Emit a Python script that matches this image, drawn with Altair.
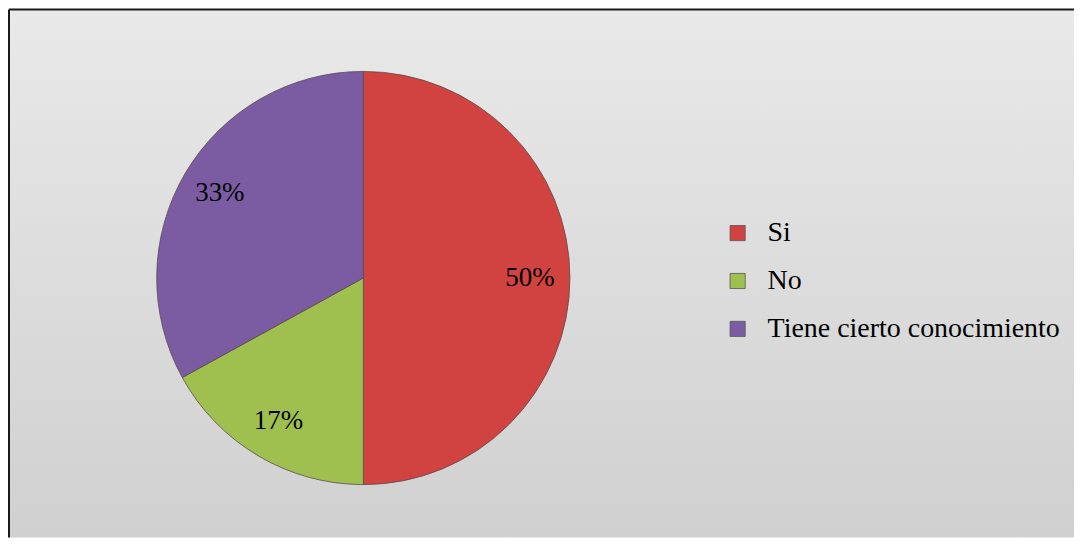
import altair as alt
import pandas as pd

categories = ["Si", "No", "Tiene cierto conocimiento"]
percents = [50, 17, 33]
labels = ["50%", "17%", "33%"]
colors = ["#d14341", "#9fc04e", "#7b5ca3"]

df = pd.DataFrame({"cat": categories, "pct": percents, "label": labels, "ord": [0, 1, 2]})
bg_df = pd.DataFrame({"k": [0]})

W, H = 1067, 529
CX, CY, R = 355, 269, 207
FONT = "Times New Roman"

color_scale = alt.Scale(domain=categories, range=colors)

bg = alt.Chart(bg_df).mark_rect(
    color=alt.LinearGradient(
        gradient="linear",
        x1=0, y1=0, x2=0, y2=1,
        stops=[
            alt.GradientStop(color="#e9e9e9", offset=0),
            alt.GradientStop(color="#d0d0d0", offset=1),
        ],
    )
).encode(x=alt.value(0), x2=alt.value(W), y=alt.value(0), y2=alt.value(H))

base = alt.Chart(df).encode(
    theta=alt.Theta("pct:Q", stack=True),
    order=alt.Order("ord:Q"),
)

pie = base.mark_arc(outerRadius=R, stroke="#5a4a4a", strokeWidth=0.8).encode(
    x=alt.value(CX),
    y=alt.value(CY),
    color=alt.Color(
        "cat:N",
        scale=color_scale,
        sort=categories,
        legend=alt.Legend(
            title=None,
            orient="none",
            legendX=716,
            legendY=210,
            symbolType="square",
            symbolSize=230,
            symbolStrokeWidth=0.8,
            symbolStrokeColor="#555555",
            labelFont=FONT,
            labelFontSize=28,
            labelColor="#000000",
            labelOffset=16,
            rowPadding=20,
            labelLimit=400,
        ),
    ),
)

text = base.mark_text(
    radius=167, font=FONT, fontSize=27, color="#000000"
).encode(
    x=alt.value(CX),
    y=alt.value(CY),
    text="label:N",
)

border_top = alt.Chart(bg_df).mark_rule(color="#1a1a1a", strokeWidth=2).encode(
    x=alt.value(0), x2=alt.value(W), y=alt.value(0)
)
border_left = alt.Chart(bg_df).mark_rule(color="#1a1a1a", strokeWidth=2).encode(
    x=alt.value(0), y=alt.value(0), y2=alt.value(H)
)

chart = (
    alt.layer(bg, pie, text, border_top, border_left)
    .properties(width=W, height=H, padding=0, background="#ffffff")
    .configure_view(stroke=None)
)

chart.save("out.html", embed_options={"renderer": "svg", "actions": False})
